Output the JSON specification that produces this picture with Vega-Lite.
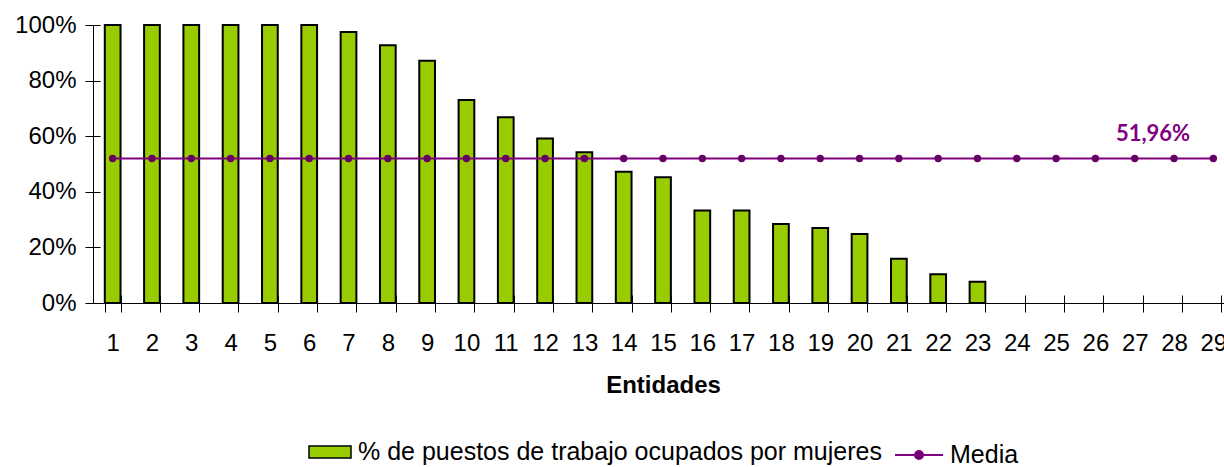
{
  "$schema": "https://vega.github.io/schema/vega-lite/v6.json",
  "width": 1140,
  "height": 278,
  "autosize": {"type": "none"},
  "padding": {"left": 93, "top": 25, "right": -9, "bottom": 164},
  "background": "white",
  "config": {
    "view": {"stroke": null},
    "font": "Liberation Sans",
    "axis": {"grid": false, "domainColor": "#000", "tickColor": "#000", "labelColor": "#000", "labelFont": "Liberation Sans", "labelFontSize": 24, "titleColor": "#000", "titleFont": "Liberation Sans"},
    "legend": {"layout": {"bottom": {"anchor": "middle", "margin": 12}}}
  },
  "data": {
    "values": [
      {"entidad": 1, "pct": 1.0, "media": 0.5196},
      {"entidad": 2, "pct": 1.0, "media": 0.5196},
      {"entidad": 3, "pct": 1.0, "media": 0.5196},
      {"entidad": 4, "pct": 1.0, "media": 0.5196},
      {"entidad": 5, "pct": 1.0, "media": 0.5196},
      {"entidad": 6, "pct": 1.0, "media": 0.5196},
      {"entidad": 7, "pct": 0.975, "media": 0.5196},
      {"entidad": 8, "pct": 0.927, "media": 0.5196},
      {"entidad": 9, "pct": 0.871, "media": 0.5196},
      {"entidad": 10, "pct": 0.73, "media": 0.5196},
      {"entidad": 11, "pct": 0.668, "media": 0.5196},
      {"entidad": 12, "pct": 0.592, "media": 0.5196},
      {"entidad": 13, "pct": 0.542, "media": 0.5196},
      {"entidad": 14, "pct": 0.472, "media": 0.5196},
      {"entidad": 15, "pct": 0.452, "media": 0.5196},
      {"entidad": 16, "pct": 0.333, "media": 0.5196},
      {"entidad": 17, "pct": 0.333, "media": 0.5196},
      {"entidad": 18, "pct": 0.284, "media": 0.5196},
      {"entidad": 19, "pct": 0.27, "media": 0.5196},
      {"entidad": 20, "pct": 0.248, "media": 0.5196},
      {"entidad": 21, "pct": 0.159, "media": 0.5196},
      {"entidad": 22, "pct": 0.103, "media": 0.5196},
      {"entidad": 23, "pct": 0.076, "media": 0.5196},
      {"entidad": 24, "pct": 0, "media": 0.5196},
      {"entidad": 25, "pct": 0, "media": 0.5196},
      {"entidad": 26, "pct": 0, "media": 0.5196},
      {"entidad": 27, "pct": 0, "media": 0.5196},
      {"entidad": 28, "pct": 0, "media": 0.5196},
      {"entidad": 29, "pct": 0, "media": 0.5196}
    ]
  },
  "resolve": {"axis": {"x": "independent", "y": "independent"}},
  "layer": [
    {
      "mark": {"type": "bar", "stroke": "#000", "strokeWidth": 2},
      "encoding": {
        "x": {
          "field": "entidad", "type": "ordinal",
          "scale": {"paddingInner": 0.6, "paddingOuter": 0.3},
          "axis": {"title": "Entidades", "titleFontSize": 24, "titleFontWeight": "bold", "titlePadding": 18, "labelAngle": 0, "tickBand": "extent", "tickSize": 9, "labelPadding": 19, "domainWidth": 1}
        },
        "y": {
          "field": "pct", "type": "quantitative",
          "scale": {"domain": [0, 1]},
          "axis": {"format": ".0%", "values": [0, 0.2, 0.4, 0.6, 0.8, 1], "title": null, "tickSize": 8, "labelPadding": 9}
        },
        "fill": {
          "datum": "% de puestos de trabajo ocupados por mujeres",
          "scale": {"range": ["#99CC00"]},
          "legend": {
            "orient": "bottom", "title": null, "offset": 33,
            "symbolType": "M-1,-0.29H1V0.29H-1Z", "symbolSize": 1764,
            "labelFontSize": 25, "labelFont": "Liberation Sans", "labelColor": "#000", "labelOffset": 6, "labelLimit": 0,
            "encode": {"symbols": {"update": {"stroke": {"value": "#000"}, "strokeWidth": {"value": 2}, "fill": {"value": "#99CC00"}}}}
          }
        },
        "strokeOpacity": {"condition": {"test": "datum.pct === 0", "value": 0}, "value": 1}
      }
    },
    {
      "mark": {"type": "line", "strokeWidth": 2},
      "encoding": {
        "x": {
          "field": "entidad", "type": "ordinal",
          "axis": {"orient": "top", "offset": -278, "labels": false, "domain": false, "title": null, "tickBand": "extent", "tickSize": 8}
        },
        "y": {
          "field": "media", "type": "quantitative",
          "axis": {"orient": "right", "offset": -1140, "labels": false, "domain": false, "title": null, "values": [0, 0.2, 0.4, 0.6, 0.8, 1], "tickSize": 7}
        },
        "stroke": {
          "datum": "Media",
          "scale": {"range": ["#800080"]},
          "legend": {
            "orient": "bottom", "title": null, "offset": 33,
            "symbolType": "M-1,0H1M-0.17,0A0.17,0.17 0 1,0 0.17,0A0.17,0.17 0 1,0 -0.17,0Z",
            "symbolSize": 2304, "symbolStrokeWidth": 2,
            "labelFontSize": 25, "labelFont": "Liberation Sans", "labelColor": "#000", "labelOffset": 6, "labelLimit": 0,
            "encode": {"symbols": {"update": {"fill": {"value": "#660066"}, "stroke": {"value": "#800080"}, "strokeWidth": {"value": 2}}}}
          }
        }
      }
    },
    {
      "mark": {"type": "point", "filled": true, "size": 55, "color": "#660066", "opacity": 1},
      "encoding": {
        "x": {"field": "entidad", "type": "ordinal", "axis": null},
        "y": {"field": "media", "type": "quantitative", "axis": null}
      }
    },
    {
      "data": {"values": [{"entidad": 28, "media": 0.5196, "label": "51,96%"}]},
      "mark": {"type": "text", "font": "Lato", "fontWeight": "bold", "fontSize": 22, "color": "#800080", "dx": -21, "dy": -25, "align": "center", "baseline": "middle"},
      "encoding": {
        "x": {"field": "entidad", "type": "ordinal", "axis": null},
        "y": {"field": "media", "type": "quantitative", "axis": null},
        "text": {"field": "label"}
      }
    }
  ]
}
